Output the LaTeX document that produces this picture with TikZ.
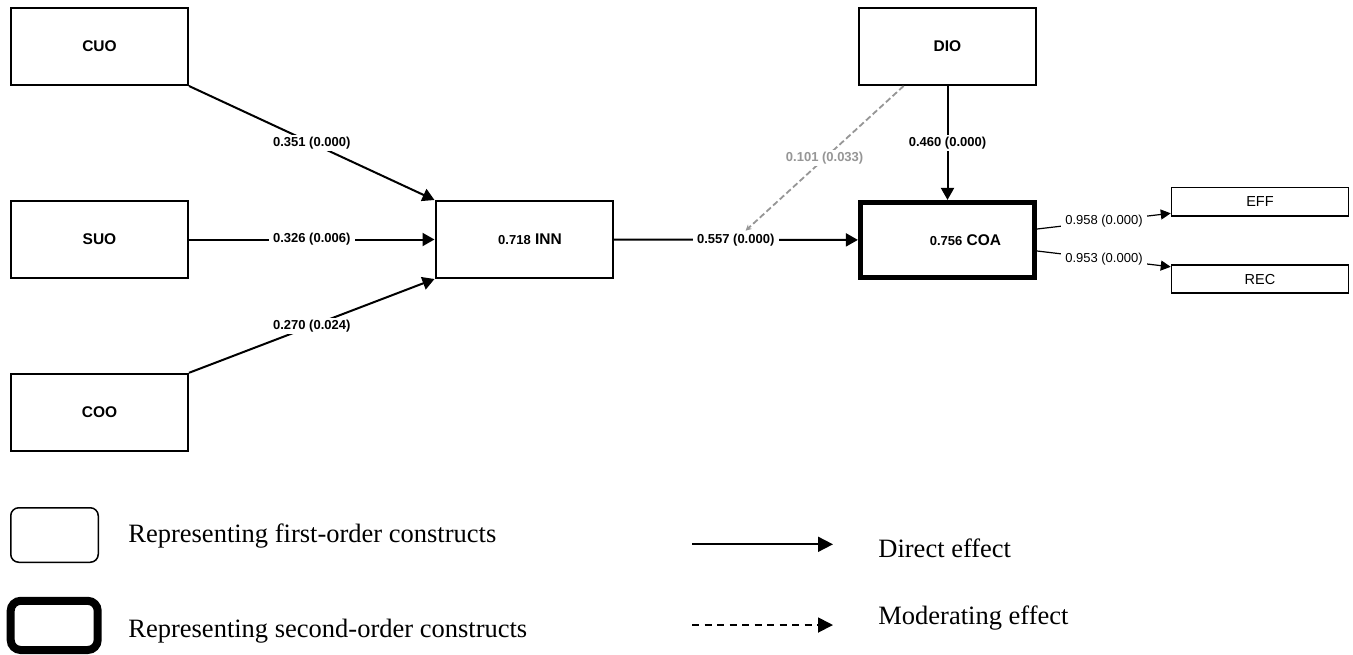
\documentclass[tikz,border=0pt]{standalone}
\usepackage{fontspec}
\setmainfont{Liberation Serif}
\setsansfont{Liberation Sans}
\usetikzlibrary{arrows.meta,positioning,calc}
\definecolor{modgray}{RGB}{150,150,150}

\begin{document}
\begin{tikzpicture}[x=0.5pt,y=-0.5pt,
  cst/.style={draw,line width=1pt,minimum width=88.5pt,minimum height=38.5pt,inner sep=0pt,
              font=\fontsize{7.75}{9}\selectfont\sffamily\bfseries},
  cst2/.style={cst,line width=2.4pt,minimum width=87.2pt,minimum height=37.7pt},
  ind/.style={draw,line width=0.75pt,minimum width=88.5pt,minimum height=14.2pt,inner sep=0pt,
              font=\fontsize{7.25}{9}\selectfont\sffamily},
  lbl/.style={fill=white,inner xsep=2.2pt,inner ysep=1pt,font=\fontsize{6.5}{8}\selectfont\sffamily\bfseries},
  lblr/.style={lbl,font=\fontsize{6.5}{8}\selectfont\sffamily},
  a/.style={-{Triangle[length=6pt,width=6.5pt]},line width=1pt},
  ai/.style={-{Triangle[length=5pt,width=5pt]},line width=0.6pt},
  moda/.style={-{Stealth[length=3pt,width=3pt]},draw=modgray,line width=0.9pt,dash pattern=on 3pt off 1.5pt},
  legarr/.style={-{Triangle[length=7.5pt,width=7.5pt]},line width=0.9pt},
  leg/.style={font=\fontsize{13.25}{16}\selectfont,anchor=base west,inner sep=0pt}]
 \useasboundingbox (0,0) rectangle (1353,654);
 % constructs
 \node[cst] (CUO) at (99.5,46.5) {CUO};
 \node[cst] (SUO) at (99.5,239.5) {SUO};
 \node[cst] (COO) at (99.5,412.3) {COO};
 \node[cst] (INN) at (524,239.5) {\hspace*{6pt}{\fontsize{6.5}{8}\selectfont 0.718} INN};
 \node[cst] (DIO) at (947.5,46.5) {DIO};
 \node[cst2] (COA) at (947.5,240) {\hspace*{18pt}{\fontsize{6.5}{8}\selectfont 0.756} COA};
 \node[ind] (EFF) at (1260,201.7) {EFF};
 \node[ind] (REC) at (1260,279) {REC};
 % paths
 \draw[a] (CUO.south east) -- node[lbl] {0.351 (0.000)} (INN.north west);
 \draw[a] (SUO) -- node[lbl] {0.326 (0.006)} (INN);
 \draw[a] (COO.north east) -- node[lbl] {0.270 (0.024)} (INN.south west);
 \draw[a] (INN) -- node[lbl] (p557) {0.557 (0.000)} (COA);
 \draw[a] (DIO) -- node[lbl] {0.460 (0.000)} (COA);
 \draw[moda] (DIO.222) -- node[lbl,text=modgray] {0.101 (0.033)} (p557);
 \draw[ai] ([yshift=5.5pt]COA.east) -- node[lblr] {0.958 (0.000)} ([yshift=-5.8pt]EFF.west);
 \draw[ai] ([yshift=-5.5pt]COA.east) -- node[lblr] {0.953 (0.000)} ([yshift=6.1pt]REC.west);
 % legend
 \node[draw,line width=0.75pt,rounded corners=4pt,minimum width=43.75pt,minimum height=27.25pt] (fo) at (54.5,535) {};
 \node[draw,line width=4pt,rounded corners=5pt,minimum width=43.5pt,minimum height=24.6pt] (so) at (54.2,625.4) {};
 \node[leg] (fot) at (128,542) {Representing first-order constructs};
 \node[leg] (sot) at (128,637) {Representing second-order constructs};
 \coordinate (d0) at (692,544.3); \coordinate (d1) at (833,544.3);
 \coordinate (m0) at (692,625); \coordinate (m1) at (833,625);
 \draw[legarr] (d0) -- (d1);
 \draw[legarr,dash pattern=on 3.5pt off 2.75pt] (m0) -- (m1);
 \node[leg] (det) at (878,557.7) {Direct effect};
 \node[leg] (met) at (878,624.3) {Moderating effect};
\end{tikzpicture}
\end{document}
